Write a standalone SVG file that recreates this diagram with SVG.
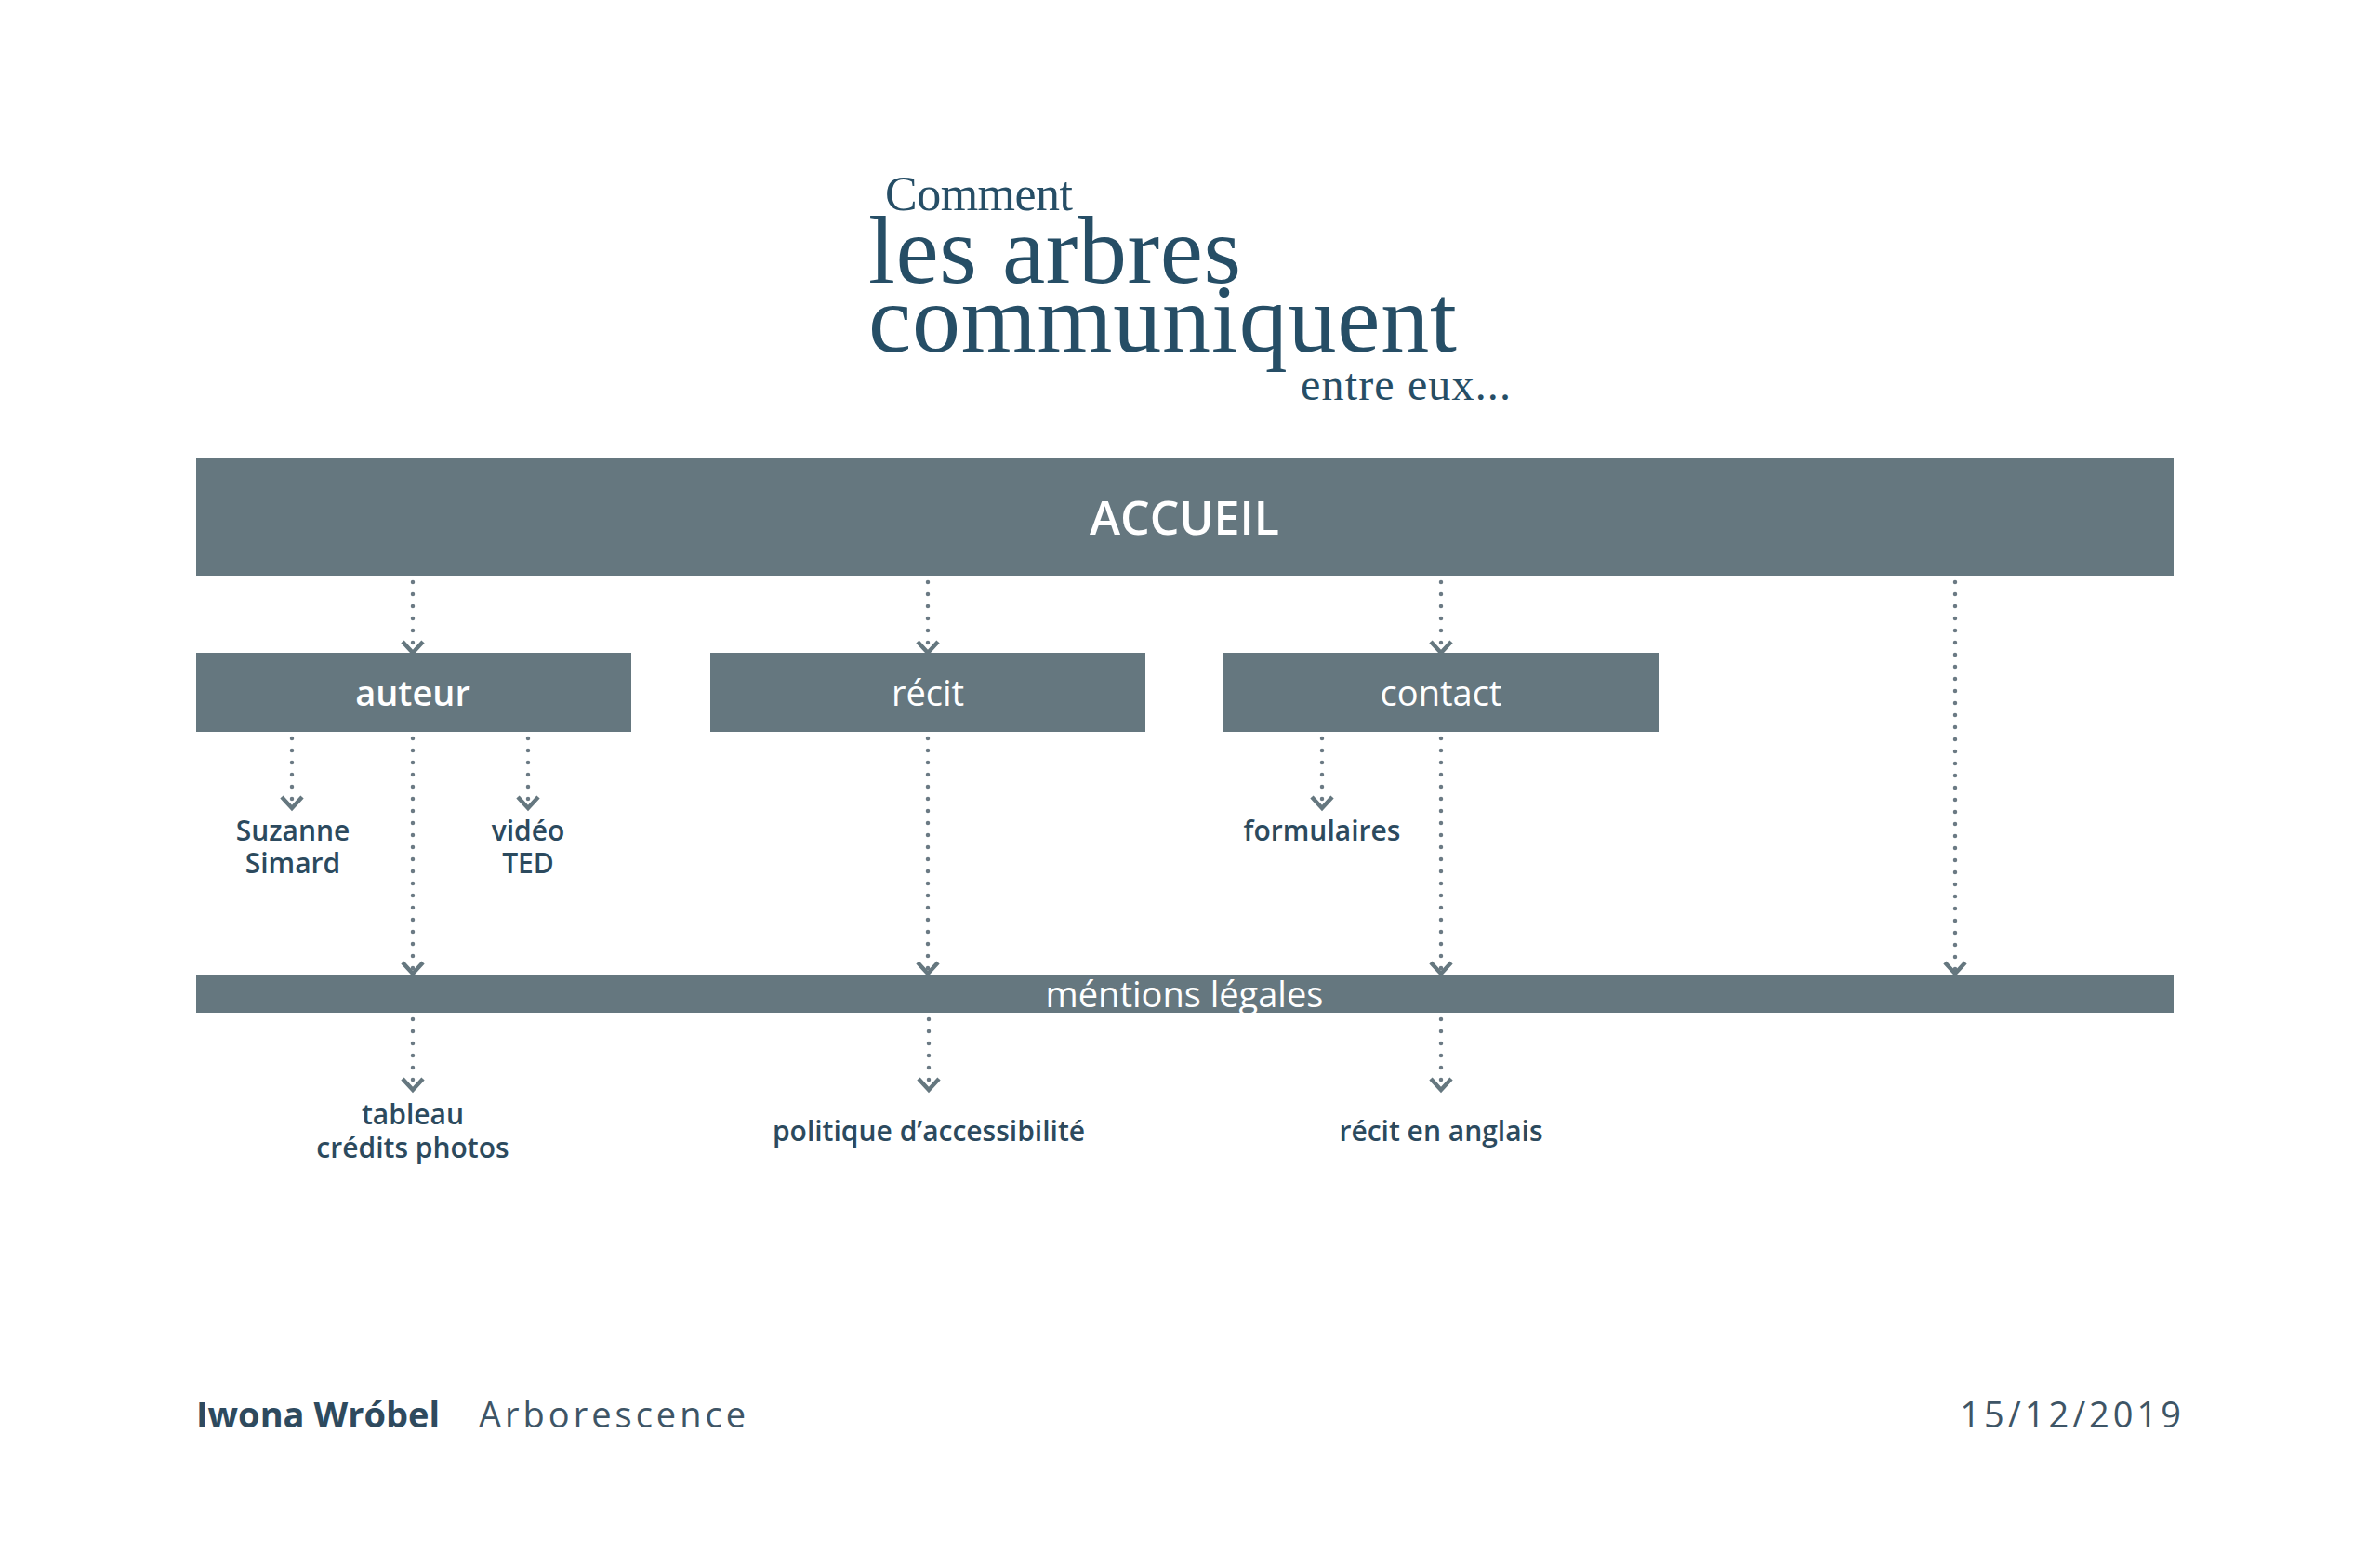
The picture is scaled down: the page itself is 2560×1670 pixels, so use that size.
<svg xmlns="http://www.w3.org/2000/svg" width="2560" height="1670" viewBox="0 0 2560 1670">
<defs>
<style>
.box{fill:#65777f}
.bt{font-family:"Open Sans","Liberation Sans",sans-serif;fill:#ffffff;text-anchor:middle}
.lbl{font-family:"Open Sans","Liberation Sans",sans-serif;font-weight:600;font-size:30px;fill:#2c4a5e;text-anchor:middle}
.title{font-family:"Liberation Serif","DejaVu Serif",serif;fill:#264e66}
.con{stroke:#6b7a84;stroke-width:4.5;stroke-linecap:round;stroke-dasharray:0 13;fill:none;marker-end:url(#chev)}
.foot{font-family:"Open Sans","Liberation Sans",sans-serif;font-size:38px}
</style>
<marker id="chev" markerUnits="userSpaceOnUse" orient="auto" refX="0" refY="0" markerWidth="30" markerHeight="30" overflow="visible">
<path d="M-12,-11 L0,0 L-12,11" fill="none" stroke="#65777f" stroke-width="4.5" stroke-linecap="butt" stroke-linejoin="miter"/>
</marker>
</defs>
<rect width="2560" height="1670" fill="#ffffff"/>

<g id="title">
<text class="title" x="952" y="226" font-size="52" textLength="202">Comment</text>
<text class="title" x="934" y="304" font-size="104" textLength="401">les arbres</text>
<text class="title" x="934" y="378" font-size="104" textLength="633">communiquent</text>
<text class="title" x="1399" y="430" font-size="48" textLength="226">entre eux...</text>
</g>

<g id="connectors">
<line class="con" x1="444" y1="626" x2="444" y2="702"/>
<line class="con" x1="998" y1="626" x2="998" y2="702"/>
<line class="con" x1="1550" y1="626" x2="1550" y2="702"/>
<line class="con" x1="2103" y1="626" x2="2103" y2="1047"/>
<line class="con" x1="444" y1="794" x2="444" y2="1047"/>
<line class="con" x1="998" y1="794" x2="998" y2="1047"/>
<line class="con" x1="1550" y1="794" x2="1550" y2="1047"/>
<line class="con" x1="314" y1="794" x2="314" y2="869"/>
<line class="con" x1="568" y1="794" x2="568" y2="869"/>
<line class="con" x1="1422" y1="794" x2="1422" y2="869"/>
<line class="con" x1="444" y1="1096" x2="444" y2="1172"/>
<line class="con" x1="999" y1="1096" x2="999" y2="1172"/>
<line class="con" x1="1550" y1="1096" x2="1550" y2="1172"/>
</g>

<g id="accueil">
<rect class="box" x="211" y="493" width="2127" height="126"/>
<text class="bt" x="1274" y="575" font-size="50" font-weight="600">ACCUEIL</text>
</g>
<g id="auteur">
<rect class="box" x="211" y="702" width="468" height="85"/>
<text class="bt" x="444" y="759" font-size="38" font-weight="600">auteur</text>
</g>
<g id="recit">
<rect class="box" x="764" y="702" width="468" height="85"/>
<text class="bt" x="998" y="759" font-size="38">récit</text>
</g>
<g id="contact">
<rect class="box" x="1316" y="702" width="468" height="85"/>
<text class="bt" x="1550" y="759" font-size="38">contact</text>
</g>
<g id="mentions">
<rect class="box" x="211" y="1048" width="2127" height="41"/>
<text class="bt" x="1274" y="1083" font-size="38">méntions légales</text>
</g>

<g id="suzanne"><text class="lbl" x="315" y="904">Suzanne</text><text class="lbl" x="315" y="939">Simard</text></g>
<g id="video"><text class="lbl" x="568" y="904">vidéo</text><text class="lbl" x="568" y="939">TED</text></g>
<g id="formulaires"><text class="lbl" x="1422" y="904">formulaires</text></g>
<g id="tableau"><text class="lbl" x="444" y="1209">tableau</text><text class="lbl" x="444" y="1245">crédits photos</text></g>
<g id="politique"><text class="lbl" x="999" y="1227">politique d’accessibilité</text></g>
<g id="recit-anglais"><text class="lbl" x="1550" y="1227">récit en anglais</text></g>

<g id="footer">
<text class="foot" x="211" y="1535" font-size="39" font-weight="700" fill="#2e4a5e">Iwona Wróbel</text>
<text class="foot" x="515" y="1535" fill="#3e5566" letter-spacing="4">Arborescence</text>
<text class="foot" x="2350" y="1535" fill="#3e5566" letter-spacing="4" text-anchor="end">15/12/2019</text>
</g>
</svg>
